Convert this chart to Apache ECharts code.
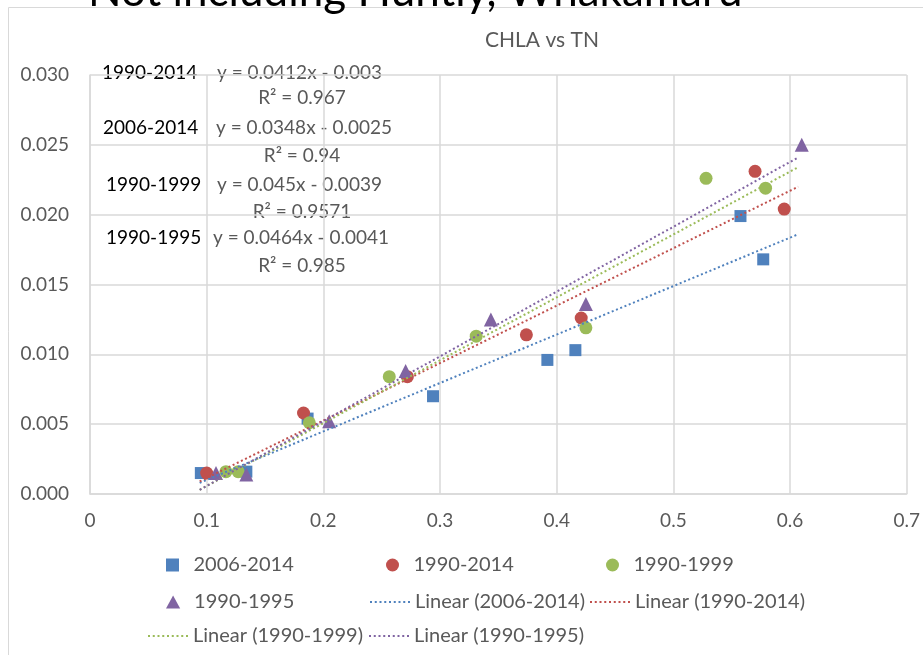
<!DOCTYPE html>
<html>
<head>
<meta charset="utf-8">
<title>CHLA vs TN</title>
<script src="https://cdn.jsdelivr.net/npm/echarts@6/dist/echarts.min.js"></script>
<style>
  html, body { margin: 0; padding: 0; background: #fff; }
  #main { width: 923px; height: 655px; }
</style>
</head>
<body>
<div id="main"></div>
<script>
// values, TN on x, CHLA on y
var seriesNames = ['2006-2014', '1990-2014', '1990-1999', '1990-1995'];

var pts2006_2014 = [[0.095, 0.0015], [0.134, 0.0016], [0.1865, 0.0054], [0.294, 0.0070],
                    [0.392, 0.0096], [0.416, 0.0103], [0.5575, 0.0199], [0.577, 0.0168]];
var pts1990_2014 = [[0.100, 0.0015], [0.183, 0.0058], [0.272, 0.0084], [0.374, 0.0114],
                    [0.421, 0.0126], [0.570, 0.0231], [0.595, 0.0204]];
var pts1990_1999 = [[0.1165, 0.0016], [0.127, 0.0016], [0.188, 0.0051], [0.2565, 0.0084],
                    [0.331, 0.0113], [0.425, 0.0119], [0.528, 0.0226], [0.579, 0.0219]];
var pts1990_1995 = [[0.108, 0.0015], [0.134, 0.0014], [0.205, 0.0052], [0.2705, 0.0088],
                    [0.3436, 0.0125], [0.425, 0.0136], [0.610, 0.0250]];

// trend line ends as drawn
var trend2006_2014 = [[0.094, 0.0008], [0.607, 0.0186]];
var trend1990_2014 = [[0.094, 0.0009], [0.607, 0.0220]];
var trend1990_1999 = [[0.094, 0.0003], [0.607, 0.0234]];
var trend1990_1995 = [[0.094, 0.0003], [0.607, 0.0241]];

// equation boxes typed on the chart
var eqPeriods = ['1990-2014', '2006-2014', '1990-1999', '1990-1995'];
var eqLines = ['y = 0.0412x - 0.003', 'y = 0.0348x - 0.0025', 'y = 0.045x - 0.0039', 'y = 0.0464x - 0.0041'];
var eqR2 = ['R\u00b2 = 0.967', 'R\u00b2 = 0.94', 'R\u00b2 = 0.9571', 'R\u00b2 = 0.985'];

var colors = ['#4f81bd', '#c0504d', '#9bbb59', '#8064a2'];
var FONT = 'Lato, "Open Sans", sans-serif';
var GREY = '#595959';

var chartDom = document.getElementById('main');
var myChart = echarts.init(chartDom, null, { renderer: 'canvas' });
var option;

// little layout table for the typed equations
var eqLayout = [
  { px: 102, ex: 217, y: 73, ry: 98 },
  { px: 103, ex: 216, y: 128, ry: 156 },
  { px: 106, ex: 217, y: 185, ry: 212 },
  { px: 106, ex: 213, y: 238, ry: 266 }
];

var graphics = [
  {
    type: 'rect',
    shape: { x: 8.5, y: 7.5, width: 1000, height: 1000 },
    style: { fill: 'none', stroke: '#d9d9d9', lineWidth: 1 },
    silent: true
  },
  {
    type: 'text',
    left: 88, top: -30,
    style: { text: 'Not including Huntly, Whakamaru', fontSize: 44, fontFamily: FONT, fill: '#000' },
    silent: true
  }
];
eqPeriods.forEach(function (p, i) {
  var l = eqLayout[i];
  graphics.push({
    type: 'text', x: l.px, y: l.y,
    style: { text: p, fontSize: 19, fontFamily: FONT, fill: '#000', textVerticalAlign: 'middle' }
  });
  graphics.push({
    type: 'text', x: l.ex, y: l.y,
    style: { text: eqLines[i], fontSize: 19, fontFamily: FONT, fill: GREY, textVerticalAlign: 'middle' }
  });
  graphics.push({
    type: 'text', x: 302, y: l.ry,
    style: { text: eqR2[i], fontSize: 19, fontFamily: FONT, fill: GREY, textAlign: 'center', textVerticalAlign: 'middle' }
  });
});

// legend icons: marker shapes kept square, trend lines as a row of dots
var dots = 'path://';
for (var k = 0; k < 9; k++) {
  var dx = (k * 4.75).toFixed(2);
  dots += 'M' + dx + ',0h2v2h-2Z';
}
var legendIcons = {
  '2006-2014': 'path://M0,0L10,0L10,10L0,10Z',
  '1990-2014': 'circle',
  '1990-1999': 'circle',
  '1990-1995': 'path://M6,0L12,11L0,11Z'
};

function legendItem(name, left, top, w) {
  return {
    data: [{ name: name, icon: legendIcons[name] || dots }],
    left: left, top: top,
    itemWidth: w, itemHeight: 13,
    padding: 0,
    selectedMode: false,
    textStyle: { color: GREY, fontSize: 20, fontFamily: FONT }
  };
}

var symbols = ['rect', 'circle', 'circle', 'triangle'];
var sizes = [12, 13, 13, 14];
var ptsList = [pts2006_2014, pts1990_2014, pts1990_1999, pts1990_1995];
var trendList = [trend2006_2014, trend1990_2014, trend1990_1999, trend1990_1995];

var series = [];
seriesNames.forEach(function (n, i) {
  series.push({
    name: n,
    type: 'scatter',
    data: ptsList[i],
    symbol: symbols[i],
    symbolSize: sizes[i],
    itemStyle: { color: colors[i], opacity: 1 },
    z: 2
  });
});
seriesNames.forEach(function (n, i) {
  series.push({
    name: 'Linear (' + n + ')',
    type: 'line',
    data: trendList[i],
    symbol: 'none',
    lineStyle: { color: colors[i], width: 2, type: [2, 2.6] },
    itemStyle: { color: colors[i] },
    z: 3
  });
});

option = {
  animation: false,
  color: colors,
  title: {
    text: 'CHLA vs TN',
    left: 537, top: 25,
    textAlign: 'center',
    textStyle: { color: GREY, fontSize: 21, fontWeight: 'normal', fontFamily: FONT }
  },
  graphic: graphics,
  legend: [
    legendItem('2006-2014', 166, 555, 32),
    legendItem('1990-2014', 386, 555, 32),
    legendItem('1990-1999', 606, 555, 32),
    legendItem('1990-1995', 166, 592, 32),
    legendItem('Linear (2006-2014)', 370, 592, 40),
    legendItem('Linear (1990-2014)', 590, 592, 40),
    legendItem('Linear (1990-1999)', 148, 626, 40),
    legendItem('Linear (1990-1995)', 369, 626, 40)
  ],
  grid: { left: 90, right: 16, top: 75, bottom: 161, containLabel: false },
  xAxis: {
    type: 'value',
    min: 0, max: 0.7, interval: 0.1,
    axisLine: { show: true, lineStyle: { color: '#d9d9d9', width: 1.5 } },
    axisTick: { show: false },
    splitLine: { show: true, lineStyle: { color: '#d9d9d9', width: 1.5 } },
    axisLabel: {
      color: GREY, fontSize: 19, fontFamily: FONT, margin: 17,
      formatter: function (v) { return String(parseFloat(v.toFixed(1))); }
    }
  },
  yAxis: {
    type: 'value',
    min: 0, max: 0.03, interval: 0.005,
    axisLine: { show: true, lineStyle: { color: '#d9d9d9', width: 1.5 } },
    axisTick: { show: false },
    splitLine: { show: true, lineStyle: { color: '#d9d9d9', width: 1.5 } },
    axisLabel: {
      color: GREY, fontSize: 19, fontFamily: FONT, margin: 21,
      formatter: function (v) { return v.toFixed(3); }
    }
  },
  series: series
};

option && myChart.setOption(option);
</script>
</body>
</html>
